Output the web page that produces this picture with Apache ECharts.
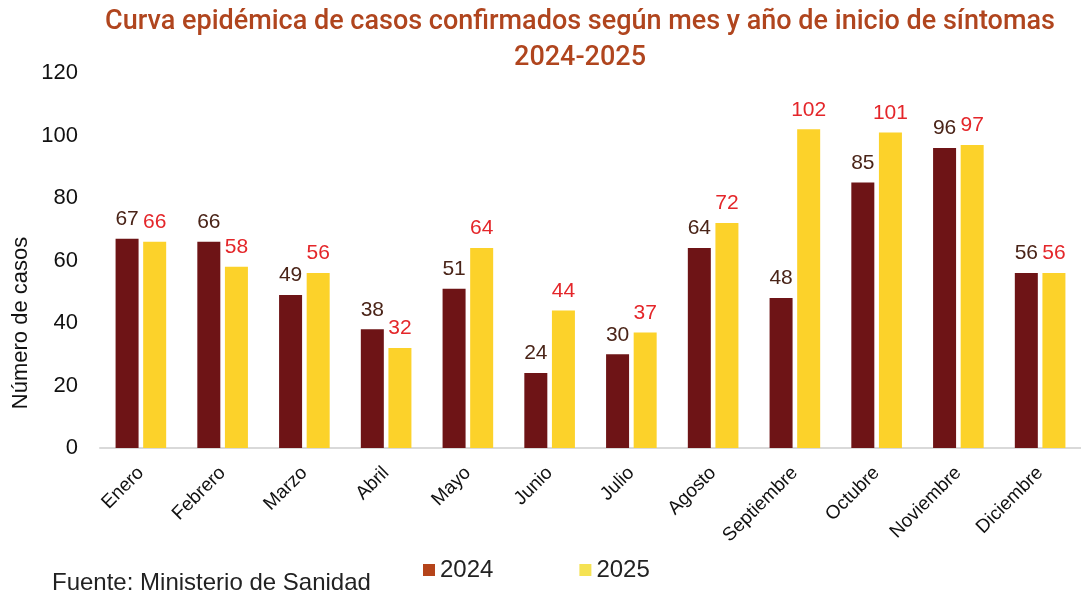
<!DOCTYPE html>
<html>
<head>
<meta charset="utf-8">
<script src="https://cdn.jsdelivr.net/npm/echarts@6/dist/echarts.min.js"></script>
<style>
  html, body { margin: 0; padding: 0; background: #fff; }
  #chart { width: 1081px; height: 598px; }
</style>
</head>
<body>
<div id="chart"></div>
<script>
const months = ['Enero', 'Febrero', 'Marzo', 'Abril', 'Mayo', 'Junio', 'Julio',
  'Agosto', 'Septiembre', 'Octubre', 'Noviembre', 'Diciembre']
const cases2024 = [67, 66, 49, 38, 51, 24, 30, 64, 48, 85, 96, 56]
const cases2025 = [66, 58, 56, 32, 64, 44, 37, 72, 102, 101, 97, 56]
const yTicks = [0, 20, 40, 60, 80, 100, 120]

const chart = echarts.init(document.getElementById('chart'))
chart.setOption({
  animation: false,
  title: [
    {
      text: 'Curva epidémica de casos confirmados según mes y año de inicio de síntomas\n2024-2025',
      left: 580,
      top: 4,
      padding: 0,
      textAlign: 'center',
      textStyle: {
        color: '#b0451e',
        fontFamily: 'Roboto',
        fontWeight: 500,
        fontSize: 27,
        lineHeight: 36
      }
    },
    {
      text: 'Fuente: Ministerio de Sanidad',
      left: 52,
      top: 571,
      padding: 0,
      textStyle: {
        color: '#222',
        fontFamily: 'Liberation Sans',
        fontWeight: 'normal',
        fontSize: 24
      }
    }
  ],
  graphic: [
    {
      type: 'text',
      x: 21,
      y: 323,
      rotation: Math.PI / 2,
      style: {
        text: 'Número de casos',
        fill: '#111',
        font: '22px "Liberation Sans"',
        textAlign: 'center',
        textVerticalAlign: 'middle'
      }
    }
  ],
  legend: {
    left: 418,
    top: 553,
    itemWidth: 12,
    itemHeight: 12,
    itemGap: 86,
    icon: 'rect',
    textStyle: { color: '#222', fontFamily: 'Liberation Sans', fontSize: 24 },
    data: [
      { name: '2024', itemStyle: { color: '#b5441a' } },
      { name: '2025', itemStyle: { color: '#f5e253' } }
    ]
  },
  grid: { left: 100, right: -8, top: 73, bottom: 150 },
  xAxis: {
    type: 'category',
    data: months,
    axisLine: { lineStyle: { color: '#d9d9d9', width: 2 } },
    axisTick: { show: false },
    axisLabel: {
      rotate: 45,
      margin: 22,
      interval: 0,
      color: '#111',
      fontFamily: 'Liberation Sans',
      fontSize: 19
    }
  },
  yAxis: {
    type: 'value',
    min: yTicks[0],
    max: yTicks[yTicks.length - 1],
    interval: 20,
    splitLine: { show: false },
    axisLine: { show: false },
    axisTick: { show: false },
    axisLabel: {
      margin: 22,
      color: '#111',
      fontFamily: 'Liberation Sans',
      fontSize: 22
    }
  },
  series: [
    {
      name: '2024',
      type: 'bar',
      data: cases2024,
      barWidth: 23,
      barGap: '20%',
      itemStyle: { color: '#6e1416' },
      label: {
        show: true,
        position: 'top',
        distance: 9,
        color: '#4a2418',
        fontFamily: 'Liberation Sans',
        fontSize: 21
      }
    },
    {
      name: '2025',
      type: 'bar',
      data: cases2025,
      barWidth: 23,
      itemStyle: { color: '#fcd22a' },
      label: {
        show: true,
        position: 'top',
        distance: 9,
        color: '#e4262a',
        fontFamily: 'Liberation Sans',
        fontSize: 21
      }
    }
  ]
})
</script>
</body>
</html>
